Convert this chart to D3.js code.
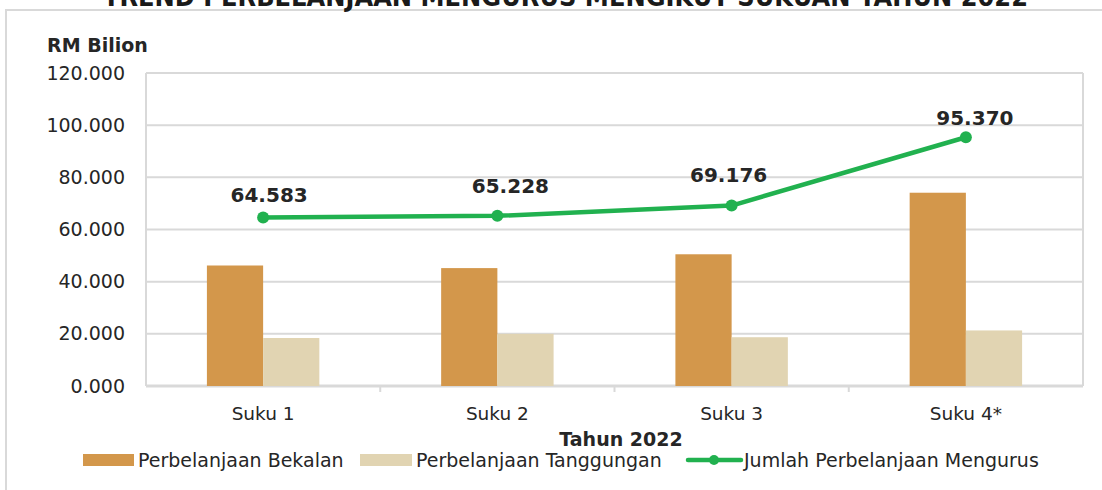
<!DOCTYPE html>
<html>
<head>
<meta charset="utf-8">
<script src="https://cdn.jsdelivr.net/npm/d3@7"></script>
<style>
  body { margin: 0; background: #fff; }
  text { font-family: "DejaVu Sans", Verdana, sans-serif; fill: #262626; }
</style>
</head>
<body>
<div id="chart"></div>
<script>
// data
var categories = ["Suku 1", "Suku 2", "Suku 3", "Suku 4*"];
var bekalan = [46.2, 45.2, 50.5, 74.1];
var tanggungan = [18.4, 20.0, 18.7, 21.3];
var jumlah = [64.583, 65.228, 69.176, 95.370];
var yTicks = [0, 20, 40, 60, 80, 100, 120];
var seriesNames = ["Perbelanjaan Bekalan", "Perbelanjaan Tanggungan", "Jumlah Perbelanjaan Mengurus"];

// manual nudges of the data labels (as placed in the original)
var labelDx = [6, 13, -3, 9];
var labelDy = [-16, -23, -24, -12];

var W = 1102, H = 490;
var margin = {top: 73, right: 19, bottom: 104, left: 146},
    width = W - margin.left - margin.right,
    height = H - margin.top - margin.bottom;

var colBekalan = "#D3974B", colTanggungan = "#E1D4B2", colLine = "#21B14F", colGrid = "#D9D9D9";

var svg = d3.select("#chart").append("svg")
    .attr("width", W)
    .attr("height", H);

// outer frame
svg.append("rect")
  .attr("x", 6).attr("y", 10)
  .attr("width", W + 10).attr("height", H + 10)
  .attr("fill", "none")
  .attr("stroke", colGrid)
  .attr("stroke-width", 2);

// title (cut off at top, as in the original)
svg.append("text")
  .attr("x", 103).attr("y", 6)
  .attr("textLength", 925)
  .attr("lengthAdjust", "spacingAndGlyphs")
  .style("font-size", "26px")
  .style("font-weight", "bold")
  .style("fill", "#1a1a1a")
  .text("TREND PERBELANJAAN MENGURUS MENGIKUT SUKUAN TAHUN 2022");

var g = svg.append("g")
    .attr("transform", "translate(" + margin.left + "," + margin.top + ")");

var x = d3.scaleBand()
  .domain(categories)
  .range([0, width]);

var y = d3.scaleLinear()
  .domain([0, 120])
  .range([height, 0]);

// gridlines
g.append("g")
  .selectAll("line")
  .data(yTicks)
  .enter()
  .append("line")
    .attr("x1", 0).attr("x2", width)
    .attr("y1", function(d) { return y(d); })
    .attr("y2", function(d) { return y(d); })
    .attr("stroke", colGrid)
    .attr("stroke-width", 2);

// plot border (left / right)
g.append("line").attr("x1", 0).attr("x2", 0).attr("y1", 0).attr("y2", height)
  .attr("stroke", colGrid).attr("stroke-width", 2);
g.append("line").attr("x1", width).attr("x2", width).attr("y1", 0).attr("y2", height)
  .attr("stroke", colGrid).attr("stroke-width", 2);

// Y axis labels
var yAxis = g.append("g")
  .call(d3.axisLeft(y).tickValues(yTicks).tickSize(0).tickPadding(21)
    .tickFormat(function(d) { return d3.format(".3f")(d); }));
yAxis.select(".domain").remove();
yAxis.selectAll("text").style("font-size", "19px").style("fill", "#262626")
  .style("font-family", "'DejaVu Sans', Verdana, sans-serif");

// category separators on the baseline
g.append("g")
  .selectAll("line")
  .data(categories.slice(1))
  .enter()
  .append("line")
    .attr("x1", function(d) { return x(d); })
    .attr("x2", function(d) { return x(d); })
    .attr("y1", height).attr("y2", height + 6)
    .attr("stroke", colGrid).attr("stroke-width", 2);

// X axis labels
var xAxis = g.append("g")
  .attr("transform", "translate(0," + height + ")")
  .call(d3.axisBottom(x).tickSize(0).tickPadding(21));
xAxis.select(".domain").remove();
xAxis.selectAll("text").style("font-size", "18.5px").style("fill", "#262626")
  .style("font-family", "'DejaVu Sans', Verdana, sans-serif");

// baseline
g.append("line").attr("x1", 0).attr("x2", width).attr("y1", height).attr("y2", height)
  .attr("stroke", colGrid).attr("stroke-width", 3);

// bars
var barW = x.bandwidth() * 0.24;
var inner = d3.scaleBand().domain([0, 1]).range([0, barW * 2]);

g.append("g")
  .selectAll("rect")
  .data(bekalan)
  .enter()
  .append("rect")
    .attr("x", function(d, i) { return x(categories[i]) + x.bandwidth() / 2 - barW + inner(0); })
    .attr("y", function(d) { return y(d); })
    .attr("width", inner.bandwidth())
    .attr("height", function(d) { return height - y(d); })
    .attr("fill", colBekalan);

g.append("g")
  .selectAll("rect")
  .data(tanggungan)
  .enter()
  .append("rect")
    .attr("x", function(d, i) { return x(categories[i]) + x.bandwidth() / 2 - barW + inner(1); })
    .attr("y", function(d) { return y(d); })
    .attr("width", inner.bandwidth())
    .attr("height", function(d) { return height - y(d); })
    .attr("fill", colTanggungan);

// total line
var line = d3.line()
  .x(function(d, i) { return x(categories[i]) + x.bandwidth() / 2; })
  .y(function(d) { return y(d); });

g.append("path")
  .datum(jumlah)
  .attr("d", line)
  .attr("fill", "none")
  .attr("stroke", colLine)
  .attr("stroke-width", 4.5)
  .attr("stroke-linejoin", "round");

g.append("g")
  .selectAll("circle")
  .data(jumlah)
  .enter()
  .append("circle")
    .attr("cx", function(d, i) { return x(categories[i]) + x.bandwidth() / 2; })
    .attr("cy", function(d) { return y(d); })
    .attr("r", 6)
    .attr("fill", colLine);

g.append("g")
  .selectAll("text")
  .data(jumlah)
  .enter()
  .append("text")
    .attr("x", function(d, i) { return x(categories[i]) + x.bandwidth() / 2 + labelDx[i]; })
    .attr("y", function(d, i) { return y(d) + labelDy[i]; })
    .attr("text-anchor", "middle")
    .style("font-size", "20px")
    .style("font-weight", "bold")
    .text(function(d) { return d3.format(".3f")(d); });

// axis titles
svg.append("text")
  .attr("x", 47).attr("y", 52)
  .style("font-size", "19px")
  .style("font-weight", "bold")
  .text("RM Bilion");

svg.append("text")
  .attr("x", 621).attr("y", 446)
  .attr("text-anchor", "middle")
  .style("font-size", "19px")
  .style("font-weight", "bold")
  .text("Tahun 2022");

// legend
var legY = 460;
var legend = svg.append("g");

legend.append("rect").attr("x", 83).attr("y", legY - 6).attr("width", 51).attr("height", 12).attr("fill", colBekalan);
legend.append("text").attr("x", 138).attr("y", legY).attr("dy", "0.35em")
  .style("font-size", "19px").text(seriesNames[0]);

legend.append("rect").attr("x", 360).attr("y", legY - 6).attr("width", 52).attr("height", 12).attr("fill", colTanggungan);
legend.append("text").attr("x", 416).attr("y", legY).attr("dy", "0.35em")
  .style("font-size", "19px").text(seriesNames[1]);

legend.append("line").attr("x1", 688).attr("x2", 741).attr("y1", legY).attr("y2", legY)
  .attr("stroke", colLine).attr("stroke-width", 4.5).attr("stroke-linecap", "round");
legend.append("circle").attr("cx", 714).attr("cy", legY).attr("r", 5).attr("fill", colLine);
legend.append("text").attr("x", 744).attr("y", legY).attr("dy", "0.35em")
  .style("font-size", "19px").text(seriesNames[2]);
</script>
</body>
</html>
